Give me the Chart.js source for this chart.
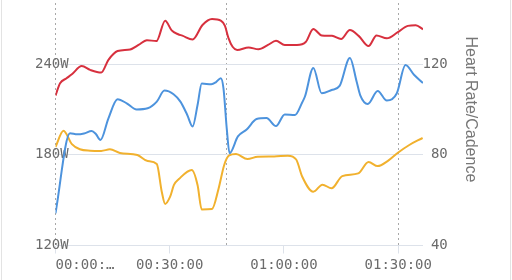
<!DOCTYPE html>
<html>
<head>
<meta charset="utf-8">
<script src="https://cdn.jsdelivr.net/npm/chart.js@4"></script>
<style>
  html, body { margin: 0; padding: 0; background: #fff; overflow: hidden; }
  body { width: 512px; height: 280px; position: relative; }
  .card { position: absolute; left: 1px; top: -10px; width: 508px; height: 300px;
          border-left: 1px solid #e3e3e3; border-right: 1px solid #e3e3e3; }
  .wrap { position: absolute; left: 0; top: -40px; width: 512px; height: 320px; }
</style>
</head>
<body>
<div class="card"></div>
<div class="wrap"><canvas id="chart"></canvas></div>
<script>
// time in minutes from start
const hrMinutes = [0, 1.2, 2.9, 4.3, 6.9, 9.1, 12.0, 13.9, 16.3, 19.6, 21.8, 24.0, 26.5, 28.8, 30.5, 32.2,
  33.3, 36.0, 38.6, 41.1, 43.5, 44.5, 45.4, 46.5, 47.7, 50.7, 53.3, 55.8, 57.9, 60.2, 63.4, 65.7,
  67.7, 69.9, 72.6, 75.0, 77.3, 79.6, 82.2, 84.3, 87.0, 89.8, 92.5, 94.6, 96.5];
const hrValues = [106.1, 111.5, 113.7, 115.5, 119.1, 117.4, 116.2, 121.8, 125.7, 126.4, 128.4, 130.5, 130.1, 139.1, 134.8, 133.1,
  132.5, 130.8, 137.2, 139.8, 139.0, 136.8, 131.5, 127.6, 126.2, 127.3, 126.5, 128.4, 130.2, 128.4, 128.4, 129.7,
  135.4, 132.6, 132.4, 131.0, 135.0, 132.4, 127.9, 132.6, 131.3, 133.9, 136.8, 137.1, 135.3];

const powerMinutes = [0, 3.8, 5.7, 7.5, 9.5, 10.6, 11.8, 13.9, 16.3, 18.7, 21.3, 24.2, 26.6, 28.6, 31.0, 32.8,
  34.6, 36.0, 37.3, 38.4, 40.9, 42.1, 43.4, 44.1, 45.0, 45.7, 47.9, 50.2, 52.8, 55.4, 57.9, 60.2,
  62.9, 64.8, 65.5, 67.7, 69.9, 72.5, 74.6, 77.3, 79.1, 80.0, 82.0, 84.6, 87.0, 89.6, 91.9, 94.2, 96.5];
const powerValues = [141.3, 194.2, 193.5, 194.1, 195.7, 193.7, 189.8, 204.1, 216.7, 214.0, 209.9, 210.7, 215.1, 222.4, 220.0, 215.1,
  206.3, 198.7, 212.9, 227.1, 226.6, 227.9, 230.6, 224.1, 196.4, 181.0, 192.1, 196.7, 203.6, 204.3, 199.0, 206.6,
  206.3, 214.7, 218.5, 237.4, 220.6, 222.8, 225.5, 244.0, 228.1, 219.5, 213.6, 222.2, 215.9, 220.5, 239.3, 232.7, 227.4];

const cadenceMinutes = [0, 2.1, 4.3, 6.4, 9.1, 12.0, 14.3, 16.9, 21.5, 24.2, 26.6, 27.9, 28.8, 30.1, 31.1, 32.4,
  35.8, 37.3, 38.4, 41.1, 42.8, 44.3, 45.6, 47.4, 50.4, 53.1, 57.4, 61.0, 63.2, 64.8, 67.7, 70.1,
  72.5, 75.3, 79.5, 82.2, 84.6, 87.2, 90.0, 92.9, 96.4];
const cadenceValues = [83.4, 90.6, 84.7, 82.4, 81.8, 81.7, 82.4, 80.8, 79.9, 77.2, 75.9, 63.7, 58.3, 61.5, 66.7, 69.3,
  73.3, 66.7, 55.9, 56.1, 64.9, 75.5, 79.7, 80.3, 78.1, 79.1, 79.2, 79.6, 77.9, 70.3, 63.7, 66.8,
  65.2, 70.6, 71.8, 76.8, 75.0, 77.2, 81.0, 84.3, 87.4];

const xTickMinutes = [0, 30, 60, 90];
const xTickLabels = ['00:00:…', '00:30:00', '01:00:00', '01:30:00'];
const lapMinutes = [0, 45, 90];
const endMinute = 96.5;

const toPoints = (xs, ys) => xs.map((x, i) => ({ x: x, y: ys[i] }));

const gridColor = '#dde2ea';
const tickFont = { family: 'DejaVu Sans Mono', size: 14 };

new Chart(document.getElementById('chart'), {
    type: 'line',
    data: {
        datasets: [
            { label: 'Heart Rate', data: toPoints(hrMinutes, hrValues), yAxisID: 'yRight', borderColor: '#d7303e' },
            { label: 'Power', data: toPoints(powerMinutes, powerValues), yAxisID: 'y', borderColor: '#4d93dd' },
            { label: 'Cadence', data: toPoints(cadenceMinutes, cadenceValues), yAxisID: 'yRight', borderColor: '#f1b12e' }
        ]
    },
    options: {
        responsive: true,
        maintainAspectRatio: false,
        animation: false,
        layout: { padding: { left: 45.5, right: 28.4, top: 13.25, bottom: 2.7 } },
        elements: {
            line: { borderWidth: 2, cubicInterpolationMode: 'monotone', fill: false },
            point: { radius: 0 }
        },
        plugins: { legend: { display: false }, tooltip: { enabled: false } },
        scales: {
            x: {
                type: 'linear', position: 'bottom', min: 0, max: endMinute,
                afterBuildTicks: s => { s.ticks = xTickMinutes.concat([endMinute]).map(v => ({ value: v })); },
                afterFit: s => { s.height = 31.8; },
                border: { display: false },
                grid: {
                    drawOnChartArea: false, drawTicks: true, tickLength: 8,
                    tickColor: c => c.index === xTickMinutes.length ? 'rgba(0,0,0,0)' : gridColor
                },
                ticks: {
                    align: 'inner', padding: 3.5, autoSkip: false, maxRotation: 0, color: '#6b6b6b', font: tickFont,
                    callback: (v, i) => xTickLabels[i] || ''
                }
            },
            laps: {
                type: 'linear', position: 'top', min: 0, max: endMinute, display: true,
                afterBuildTicks: s => { s.ticks = lapMinutes.map(v => ({ value: v })); },
                afterFit: s => { s.height = 0; },
                border: { display: false, dash: [2, 3] },
                grid: { color: '#a8a8a8', drawTicks: false, lineWidth: 1 },
                ticks: { display: false }
            },
            y: {
                position: 'left', min: 120, max: 300,
                afterFit: s => { s.width = 10; },
                border: { display: false },
                grid: { color: gridColor, drawTicks: false },
                ticks: { stepSize: 60, mirror: true, padding: -20.5, color: '#6b6b6b', font: tickFont, callback: v => v + 'W' }
            },
            yRight: {
                position: 'right', min: 40, max: 160,
                afterFit: s => { s.width = 60.6; },
                border: { display: false },
                grid: { drawOnChartArea: false, drawTicks: false },
                ticks: { stepSize: 40, padding: -0.5, color: '#6b6b6b', font: tickFont, callback: v => String(v).padStart(3, ' ') },
                title: {
                    display: true, text: 'Heart Rate/Cadence', color: '#777',
                    font: { family: 'Liberation Sans', size: 16 }, padding: { top: 4, bottom: 0 }
                }
            }
        }
    }
});
</script>
</body>
</html>
